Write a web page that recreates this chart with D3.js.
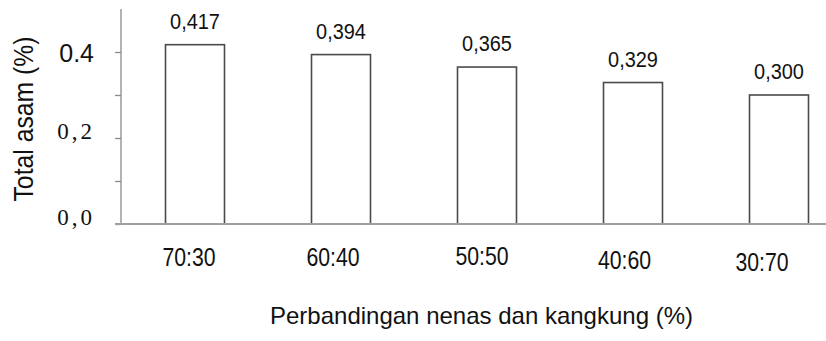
<!DOCTYPE html>
<html>
<head>
<meta charset="utf-8">
<script src="https://cdn.jsdelivr.net/npm/d3@7/dist/d3.min.js"></script>
<style>
  html, body { margin: 0; padding: 0; background: #fff; }
  svg { display: block; }
</style>
</head>
<body>
<svg id="chart" width="826" height="341"></svg>
<script>
// Ratio of pineapple to water spinach and the measured total acid
const categories = ["70:30", "60:40", "50:50", "40:60", "30:70"];
const totalAcid = [0.417, 0.394, 0.365, 0.329, 0.300];
const valueLabels = ["0,417", "0,394", "0,365", "0,329", "0,300"];
const yTickValues = [0, 0.1, 0.2, 0.3, 0.4];
const yTickLabels = ["0,0", "", "0,2", "", "0.4"];
const yTitle = "Total asam (%)";
const xTitle = "Perbandingan nenas dan kangkung (%)";

const svg = d3.select("#chart");

const x = d3.scaleBand()
  .domain(categories)
  .range([122, 852])
  .paddingInner(0.596)
  .paddingOuter(0.298);

const y = d3.scaleLinear()
  .domain([0, 0.5])
  .range([224, 9]);

// bars
svg.append("g")
  .selectAll("rect")
  .data(categories)
  .join("rect")
  .attr("x", d => x(d))
  .attr("y", (d, i) => y(totalAcid[i]))
  .attr("width", x.bandwidth())
  .attr("height", (d, i) => y(0) - y(totalAcid[i]))
  .attr("fill", "#fff")
  .attr("stroke", "#4a4a4a")
  .attr("stroke-width", 1.6);

// value labels above each bar
svg.append("g")
  .selectAll("text")
  .data(categories)
  .join("text")
  .attr("transform", (d, i) =>
    `translate(${x(d) + x.bandwidth() / 2},${y(totalAcid[i]) - 16}) scale(0.95,1.08)`)
  .attr("text-anchor", "middle")
  .attr("font-family", "'Liberation Sans', Arial, sans-serif")
  .attr("font-size", 21)
  .attr("fill", "#111")
  .text((d, i) => valueLabels[i]);

// y axis
const yAxis = d3.axisLeft(y)
  .tickValues(yTickValues)
  .tickSize(6)
  .tickFormat((d, i) => yTickLabels[i]);

const gy = svg.append("g")
  .attr("transform", "translate(121,0)")
  .call(yAxis);
gy.select(".domain")
  .attr("d", `M0,${y(0.5)}V${y(0)}`)
  .attr("stroke", "#8a8a8a")
  .attr("stroke-width", 1.3);
gy.selectAll(".tick line").attr("stroke", "#8a8a8a").attr("stroke-width", 1.3);
gy.selectAll(".tick text")
  .attr("x", (d, i) => i === 4 ? -27 : -26)
  .attr("dy", (d, i) => i === 4 ? "9.5px" : "0px")
  .attr("font-family", (d, i) => i === 4 ? "'Liberation Sans', Arial, sans-serif" : "'Liberation Serif', 'Times New Roman', serif")
  .attr("font-size", (d, i) => i === 4 ? 25 : 23)
  .attr("letter-spacing", (d, i) => i === 4 ? 0 : 3)
  .attr("fill", "#111");

// baseline
svg.append("line")
  .attr("x1", 115).attr("x2", 826)
  .attr("y1", y(0)).attr("y2", y(0))
  .attr("stroke", "#a0a0a0")
  .attr("stroke-width", 2);

// category labels
const catNudgeX = [-6, -8, -5, -8.5, -17];
const catBaseline = [266, 266, 265, 269, 271];
svg.append("g")
  .selectAll("text")
  .data(categories)
  .join("text")
  .attr("transform", (d, i) =>
    `translate(${x(d) + x.bandwidth() / 2 + catNudgeX[i]},${catBaseline[i]}) scale(0.85,1)`)
  .attr("text-anchor", "middle")
  .attr("font-family", "'Liberation Sans', Arial, sans-serif")
  .attr("font-size", 25)
  .attr("fill", "#111")
  .text(d => d);

// axis titles
svg.append("text")
  .attr("transform", "translate(33,119) rotate(-90) scale(0.9,1)")
  .attr("text-anchor", "middle")
  .attr("font-family", "'Liberation Sans', Arial, sans-serif")
  .attr("font-size", 27.5)
  .attr("fill", "#111")
  .text(yTitle);

svg.append("text")
  .attr("x", 270)
  .attr("y", 324)
  .attr("font-family", "'Liberation Sans', Arial, sans-serif")
  .attr("font-size", 24)
  .attr("fill", "#111")
  .text(xTitle);
</script>
</body>
</html>
